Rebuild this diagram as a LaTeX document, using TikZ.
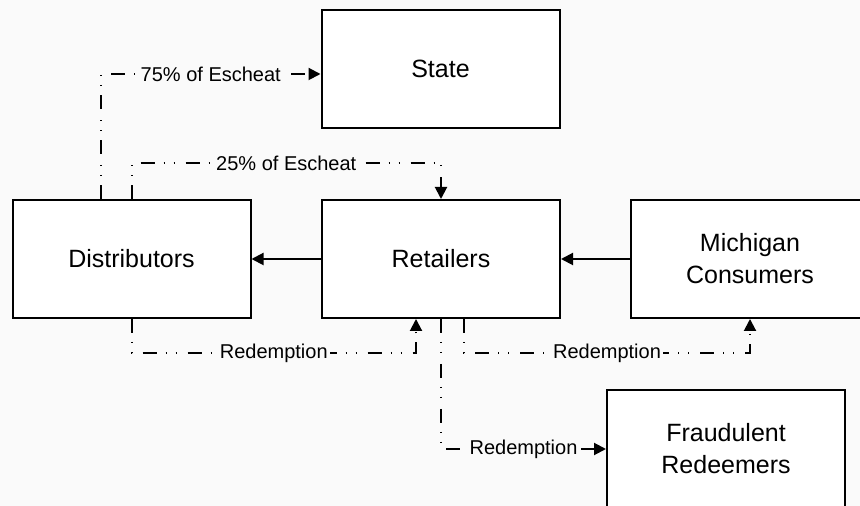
\documentclass[tikz,border=0pt]{standalone}
\usepackage{fontspec}
\setmainfont{Liberation Sans}
\usetikzlibrary{
    arrows.meta,
    positioning
}
\tikzset{
    party/.style={draw, fill=white, line width=1pt, minimum width=119pt, minimum height=59pt,
        inner sep=0pt, align=center, font=\fontsize{12.5}{16}\selectfont},
    flow/.style={line width=1pt, -{Triangle[length=6pt, width=6pt]}},
    money/.style={flow, dash pattern=on 7pt off 4.5pt on 0.5pt off 4.5pt on 0.5pt off 5.5pt},
    tag/.style={fill=black!2, inner sep=1pt, font=\fontsize{10}{12}\selectfont}
}

\begin{document}
\begin{tikzpicture}[x=0.5pt, y=-0.5pt]
    \path[use as bounding box, fill=black!2] (0, 0) rectangle (860, 506);
    \clip (0, 0) rectangle (860, 506);
    \node[party] (state) at (440.5, 69) {State};
    \node[party] (dist) at (131.5, 259) {Distributors};
    \node[party] (ret) at (441, 259) {Retailers};
    \node[party] (cons) at (750, 259) {Michigan\\Consumers};
    \node[party] (fraud) at (726, 449) {Fraudulent\\Redeemers};
    % bend points of the dashed flows
    \coordinate (top75) at (101, 74);
    \coordinate (top25) at (131.5, 163);
    \coordinate (low) at (0, 353);
    \coordinate (inret) at (416, 0);
    \coordinate (outret) at (464, 0);
    \draw[flow] (ret) -- (dist);
    \draw[flow] (cons) -- (ret);
    \draw[money] (dist.north -| top75) -- (top75) -- node[tag] {75\% of Escheat} (top75 -| state.west);
    \draw[money] (dist.north) -- (top25) -- node[tag] {25\% of Escheat} (top25 -| ret.north) -- (ret.north);
    \draw[money] (dist.south) -- (dist.south |- low) -- node[tag] {Redemption} (inret |- low) -- (inret |- ret.south);
    \draw[money] (outret |- ret.south) -- (outret |- low) -- node[tag] {Redemption} (cons.south |- low) -- (cons.south);
    \draw[money] (ret.south) -- (ret.south |- fraud.west) -- node[tag] {Redemption} (fraud.west);
\end{tikzpicture}
\end{document}
